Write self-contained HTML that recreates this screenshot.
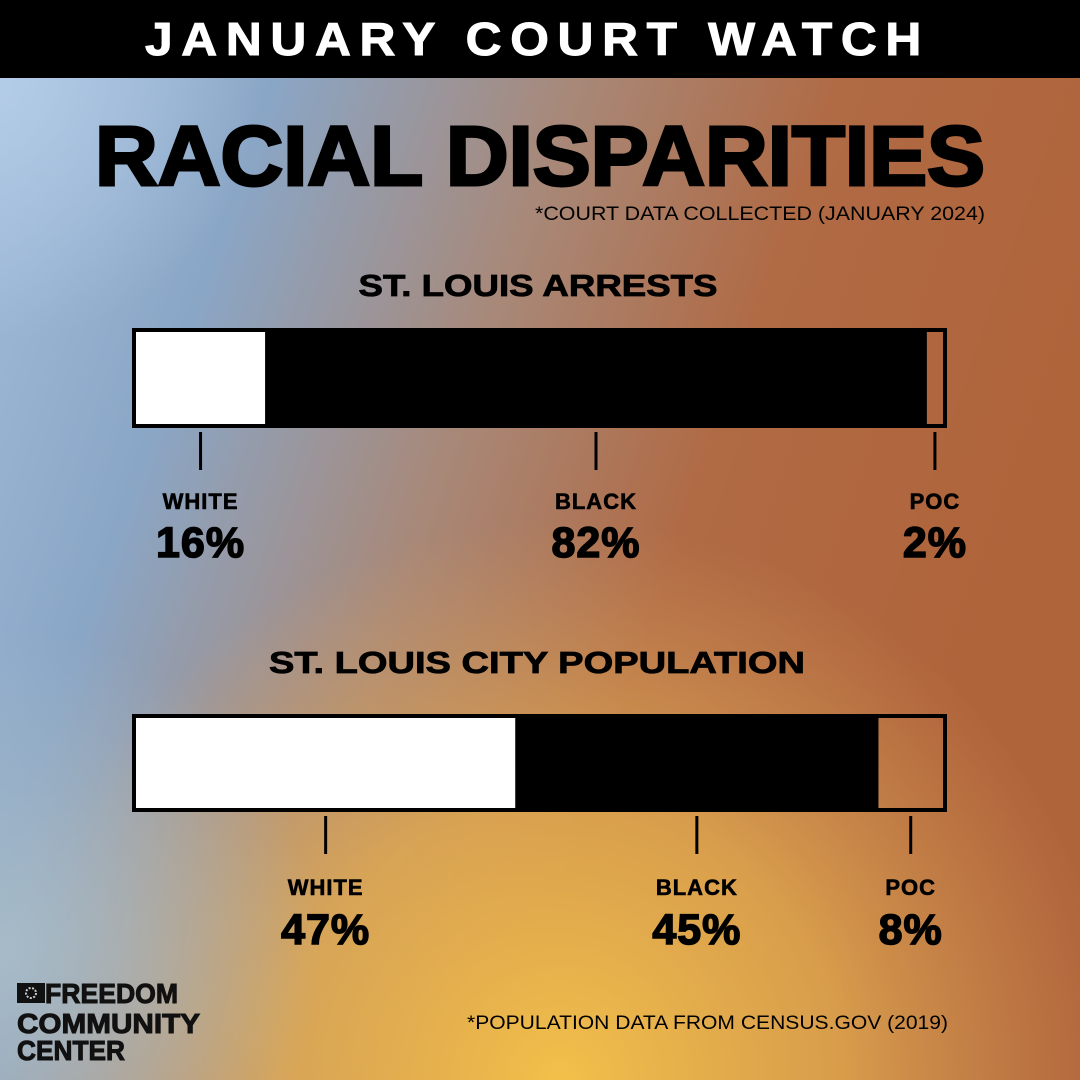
<!DOCTYPE html>
<html><head><meta charset="utf-8">
<style>
html,body{margin:0;padding:0;width:1080px;height:1080px;overflow:hidden}
svg{display:block}
text{font-family:"Liberation Sans",sans-serif;fill:#000}
</style></head>
<body>
<svg id="chart" width="1080" height="1080" viewBox="0 0 1080 1080">
<defs>
<linearGradient id="base" x1="0" y1="0" x2="1" y2="0.35">
<stop offset="0" stop-color="#a3bedc"/>
<stop offset="0.25" stop-color="#8aa6c6"/>
<stop offset="0.5" stop-color="#a88878"/>
<stop offset="0.72" stop-color="#b06a44"/>
<stop offset="1" stop-color="#b0643a"/>
</linearGradient>
<radialGradient id="yellow" cx="560" cy="1080" r="560" gradientUnits="userSpaceOnUse">
<stop offset="0" stop-color="#f2c04a" stop-opacity="1"/>
<stop offset="0.5" stop-color="#e6b050" stop-opacity="0.75"/>
<stop offset="1" stop-color="#d8a060" stop-opacity="0"/>
</radialGradient>
<radialGradient id="tl" cx="0" cy="80" r="260" gradientUnits="userSpaceOnUse">
<stop offset="0" stop-color="#b8d0ea" stop-opacity="0.8"/>
<stop offset="1" stop-color="#b8d0ea" stop-opacity="0"/>
</radialGradient>
<radialGradient id="bl" cx="0" cy="950" r="320" gradientUnits="userSpaceOnUse">
<stop offset="0" stop-color="#a8bcc8" stop-opacity="0.95"/>
<stop offset="1" stop-color="#a8bcc8" stop-opacity="0"/>
</radialGradient>
</defs>
<rect width="1080" height="1080" fill="url(#base)"/>
<rect width="1080" height="1080" fill="url(#yellow)"/>
<rect width="1080" height="1080" fill="url(#tl)"/>
<rect width="1080" height="1080" fill="url(#bl)"/>
<rect x="0" y="0" width="1080" height="78" fill="#000"/>
<text x="145" y="55" textLength="785" lengthAdjust="spacingAndGlyphs" style="fill:#fff;stroke:#fff;stroke-width:1;font-weight:bold;font-size:46px;letter-spacing:8px">JANUARY COURT WATCH</text>
<text x="95" y="185" textLength="890" lengthAdjust="spacingAndGlyphs" style="stroke:#000;stroke-width:3;font-weight:bold;font-size:84px">RACIAL DISPARITIES</text>
<text x="985" y="220" text-anchor="end" textLength="450" lengthAdjust="spacingAndGlyphs" style="font-size:19px">*COURT DATA COLLECTED (JANUARY 2024)</text>
<text x="538" y="296" text-anchor="middle" textLength="359" lengthAdjust="spacingAndGlyphs" style="stroke:#000;stroke-width:0.8;font-weight:bold;font-size:31px">ST. LOUIS ARRESTS</text>
<text x="537" y="673" text-anchor="middle" textLength="536" lengthAdjust="spacingAndGlyphs" style="stroke:#000;stroke-width:0.8;font-weight:bold;font-size:31px">ST. LOUIS CITY POPULATION</text>
<text x="948" y="1029" text-anchor="end" textLength="481" lengthAdjust="spacingAndGlyphs" style="font-size:19px">*POPULATION DATA FROM CENSUS.GOV (2019)</text>
<g>
<rect x="17" y="983" width="28" height="20" fill="#111"/>
<circle cx="31" cy="993" r="5" fill="none" stroke="#ccc" stroke-width="2" stroke-dasharray="2 1.5"/>
<text x="45" y="1003" textLength="133" lengthAdjust="spacingAndGlyphs" style="stroke:#111;stroke-width:1;font-weight:bold;font-size:28px;fill:#111">FREEDOM</text>
<text x="17" y="1033" textLength="183" lengthAdjust="spacingAndGlyphs" style="stroke:#111;stroke-width:1;font-weight:bold;font-size:28px;fill:#111">COMMUNITY</text>
<text x="17" y="1060" textLength="108" lengthAdjust="spacingAndGlyphs" style="stroke:#111;stroke-width:1;font-weight:bold;font-size:28px;fill:#111">CENTER</text>
</g>
<g id="bars"></g>
</svg>
<script>
const categories = ["WHITE", "BLACK", "POC"];
const arrestValues = [16, 82, 2];
const populationValues = [47, 45, 8];
const fills = ["#fff", "#000", "none"];

const NS = "http://www.w3.org/2000/svg";
const g = document.getElementById("bars");
const X0 = 136, W = 807;
function xScale(v){ return v / 100 * W; }
function mk(tag, attrs){ const e = document.createElementNS(NS, tag); for (const k in attrs) e.setAttribute(k, attrs[k]); g.appendChild(e); return e; }

function drawBar(values, y, h, key, labelY, pctY){
  const outer = mk("rect", {x:X0-2, y:y-2, width:W+4, height:h+4, fill:"none", stroke:"#000", "stroke-width":4});
  
  
  let acc = 0;
  values.forEach((v, i) => {
    const x = X0 + xScale(acc), w = xScale(v);
    const seg = mk("rect", {x:x, y:y, width:w, height:h, fill:fills[i]});
    
    
    const cx = x + w / 2;
    const tick = mk("line", {x1:cx, x2:cx, y1:y+h+8, y2:y+h+46, stroke:"#000", "stroke-width":3});
    
    
    const lab = mk("text", {x:cx, y:labelY, "text-anchor":"middle", style:"stroke:#000;stroke-width:0.6;font-weight:bold;font-size:22px;letter-spacing:1px"});
    lab.textContent = categories[i];
    
    
    const pct = mk("text", {x:cx, y:pctY, "text-anchor":"middle", style:"stroke:#000;stroke-width:1.5;font-weight:bold;font-size:43px;letter-spacing:1px"});
    pct.textContent = v + "%";
    
    
    acc += v;
  });
}
drawBar(arrestValues, 332, 92, "arrests", 509, 557);
drawBar(populationValues, 718, 90, "population", 895, 944);
</script>
</body></html>
